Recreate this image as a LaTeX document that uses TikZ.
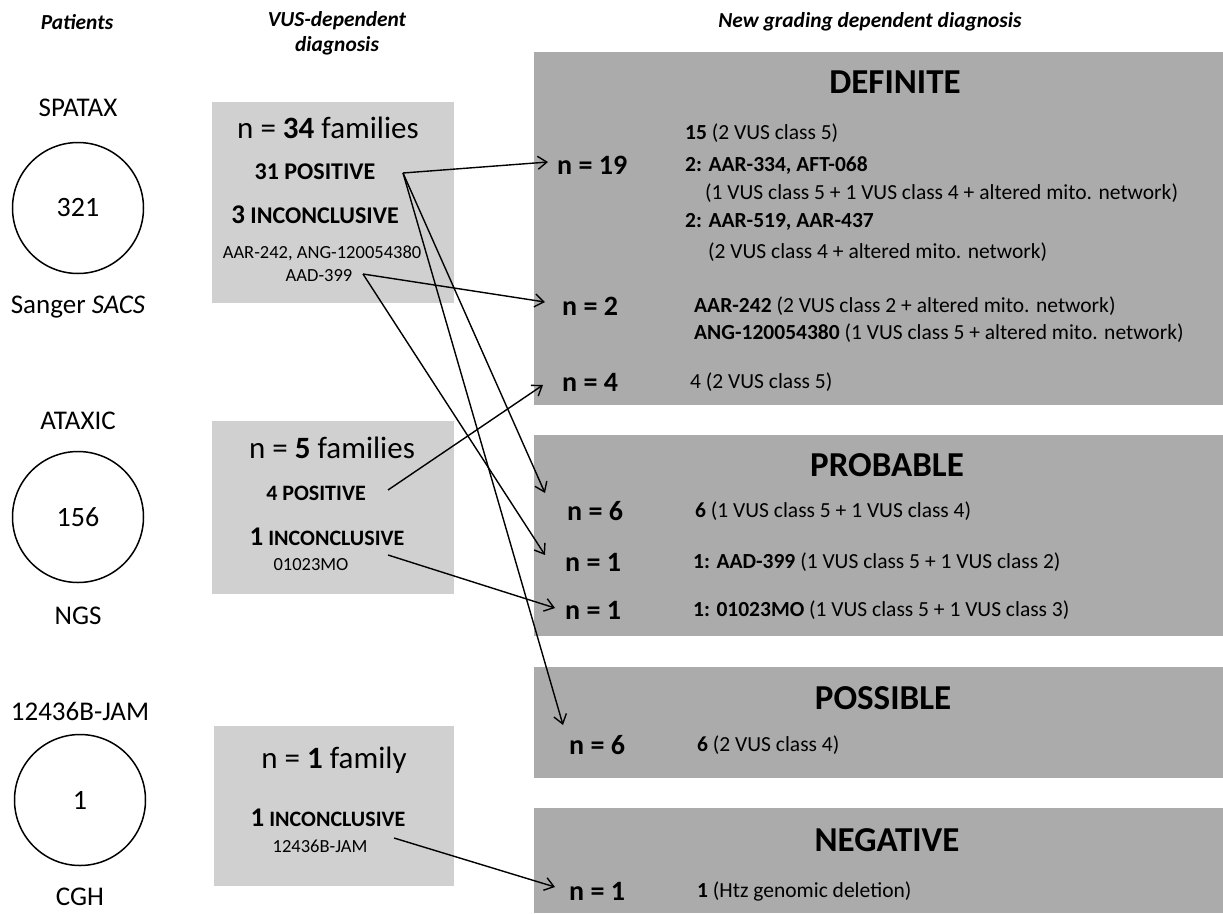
\documentclass[tikz,border=0pt]{standalone}
\usepackage{fontspec}
\setmainfont{Carlito}
\usetikzlibrary{arrows.meta}
\definecolor{colLight}{RGB}{208,208,208}
\definecolor{colDark}{RGB}{171,171,171}
\tikzstyle{head}=[inner sep=0pt, align=center, font=\fontsize{21.4}{25}\selectfont\bfseries\itshape]
\tikzstyle{cohort}=[circle, draw, line width=1.5pt, minimum size=131pt, inner sep=0pt, font=\fontsize{28}{28}\selectfont]
\tikzstyle{clabel}=[inner sep=0pt, font=\fontsize{27}{27}\selectfont]
\tikzstyle{lbox}=[fill=colLight]
\tikzstyle{dbox}=[fill=colDark]
\tikzstyle{fam}=[inner sep=0pt, font=\fontsize{31}{31}\selectfont]
\tikzstyle{res}=[inner sep=0pt, font=\fontsize{22}{22}\selectfont\bfseries]
\tikzstyle{ids}=[inner sep=0pt, font=\fontsize{18.5}{18.5}\selectfont]
\tikzstyle{grade}=[inner sep=0pt, font=\fontsize{35}{35}\selectfont\bfseries]
\tikzstyle{count}=[inner sep=0pt, anchor=west, font=\fontsize{28}{28}\selectfont\bfseries]
\tikzstyle{detail}=[inner sep=0pt, anchor=west, font=\fontsize{21.5}{21.5}\selectfont]
\tikzstyle{arr}=[line width=1.4pt, -{Straight Barb[length=9pt,width=13pt]}]
\newcommand{\bigd}[1]{{\fontsize{27}{27}\selectfont #1}}

\begin{document}
\begin{tikzpicture}[x=1pt, y=-1pt]
	\fill[white] (0,0) rectangle (1223,913);
	\useasboundingbox (0,0) rectangle (1223,913);

	%%% Headers
	\node[head] (pat) at (77, 22)  {Patients};
	\node[head] (vus) at (337, 33) {VUS-dependent\\diagnosis};
	\node[head] (new) at (870, 22) {New grading dependent diagnosis};

	%%% Patients
	\node[clabel]      (lsp) at (78, 108) {SPATAX};
	\node[cohort]      (c1)  at (78, 208) {321};
	\node[clabel]      (bsp) at (78, 307) {Sanger \textit{SACS}};
	\node[clabel]      (lat) at (78, 421) {ATAXIC};
	\node[cohort]      (c2)  at (78, 517) {156};
	\node[clabel]      (bat) at (78, 616) {NGS};
	\node[clabel]      (ljm) at (80, 711) {12436B-JAM};
	\node[cohort]      (c3)  at (80, 800) {1};
	\node[clabel]      (bjm) at (80, 897) {CGH};

	%%% VUS-dependent diagnosis
	\fill[lbox] (212,102) rectangle (454,303);
	\fill[lbox] (212,421) rectangle (454,594);
	\fill[lbox] (214,726) rectangle (454,886);
	% first box
	\node[fam] (f34)  at (328, 128) {n = \textbf{34} families};
	\node[res, font=\fontsize{24}{24}\selectfont\bfseries] (pos31) at (315, 172) {31 POSITIVE};
	\node[res, font=\fontsize{24}{24}\selectfont\bfseries] (inc3)  at (315, 215) {\bigd{3} INCONCLUSIVE};
	\node[ids] (id3a) at (322, 253) {AAR-242, ANG-120054380};
	\node[ids] (id3b) at (319, 276) {AAD-399};
	% second box
	\node[fam] (f5)   at (332, 448) {n = \textbf{5} families};
	\node[res] (pos4) at (316, 493) {4 POSITIVE};
	\node[res] (inc1) at (327, 537) {\bigd{1} INCONCLUSIVE};
	\node[ids] (id1)  at (311, 565) {01023MO};
	% third box
	\node[fam] (f1)   at (334, 760) {n = \textbf{1} family};
	\node[res] (inc0) at (328, 818) {\bigd{1} INCONCLUSIVE};
	\node[ids] (id0)  at (320, 846) {12436B-JAM};

	%%% New grading dependent diagnosis
	\fill[dbox] (534,52)  rectangle (1223,405);
	\fill[dbox] (534,435) rectangle (1223,636);
	\fill[dbox] (534,667) rectangle (1223,778);
	\fill[dbox] (534,808) rectangle (1223,913);

	% Definite
	\node[grade]  (gdef) at (895, 82)  {DEFINITE};
	\node[detail] (d15)  at (685, 133) {\textbf{15} (2 VUS class 5)};
	\node[count]  (n19)  at (557, 165) {n = 19};
	\node[detail] (d2a)  at (685, 166) {\textbf{2: AAR-334, AFT-068}};
	\node[detail] (d2b)  at (705, 193) {(1 VUS class 5 + 1 VUS class 4 + altered mito. network)};
	\node[detail] (d2c)  at (685, 222) {\textbf{2: AAR-519, AAR-437}};
	\node[detail] (d2d)  at (708, 252) {(2 VUS class 4 + altered mito. network)};
	\node[count]  (n2)   at (562, 306) {n = 2};
	\node[detail] (dAAR) at (694, 306) {\textbf{AAR-242} (2 VUS class 2 + altered mito. network)};
	\node[detail] (dANG) at (694, 333) {\textbf{ANG-120054380} (1 VUS class 5 + altered mito. network)};
	\node[count]  (n4)   at (562, 382) {n = 4};
	\node[detail] (d4)   at (690, 382) {4 (2 VUS class 5)};

	% Probable
	\node[grade]  (gpro) at (887, 465) {PROBABLE};
	\node[count]  (n6a)  at (567, 511) {n = 6};
	\node[detail] (d6a)  at (695, 511) {\textbf{6} (1 VUS class 5 + 1 VUS class 4)};
	\node[count]  (n1a)  at (565, 562) {n = 1};
	\node[detail] (d1a)  at (693, 562) {\textbf{1: AAD-399} (1 VUS class 5 + 1 VUS class 2)};
	\node[count]  (n1b)  at (565, 610) {n = 1};
	\node[detail] (d1b)  at (693, 610) {\textbf{1: 01023MO} (1 VUS class 5 + 1 VUS class 3)};

	% Possible
	\node[grade]  (gpos) at (883, 698) {POSSIBLE};
	\node[count]  (n6b)  at (569, 745) {n = 6};
	\node[detail] (d6b)  at (697, 745) {\textbf{6} (2 VUS class 4)};

	% Negative
	\node[grade]  (gneg) at (887, 840) {NEGATIVE};
	\node[count]  (n1c)  at (569, 891) {n = 1};
	\node[detail] (d1c)  at (697, 891) {\textbf{1} (Htz genomic deletion)};

	%%% Arrows
	\coordinate (p31)  at (403, 173);
	\coordinate (pAAD) at (363, 274);
	\coordinate (p4)   at (388, 490);
	\coordinate (p01)  at (388, 555);
	\coordinate (pJAM) at (394, 838);
	\coordinate (t19)  at (548, 162);
	\coordinate (t2)   at (545, 302);
	\coordinate (t4)   at (543, 385);
	\coordinate (t6a)  at (545, 493);
	\coordinate (t1a)  at (545, 555);
	\coordinate (t1b)  at (555, 608);
	\coordinate (t6b)  at (563, 725);
	\coordinate (t1c)  at (555, 887);

	\draw[arr] (p31)--(t19);
	\draw[arr] (p31)--(t6a);
	\draw[arr] (p31)--(t6b);
	\draw[arr] (pAAD)--(t2);
	\draw[arr] (pAAD)--(t1a);
	\draw[arr] (p4)--(t4);
	\draw[arr] (p01)--(t1b);
	\draw[arr] (pJAM)--(t1c);
\end{tikzpicture}
\end{document}
